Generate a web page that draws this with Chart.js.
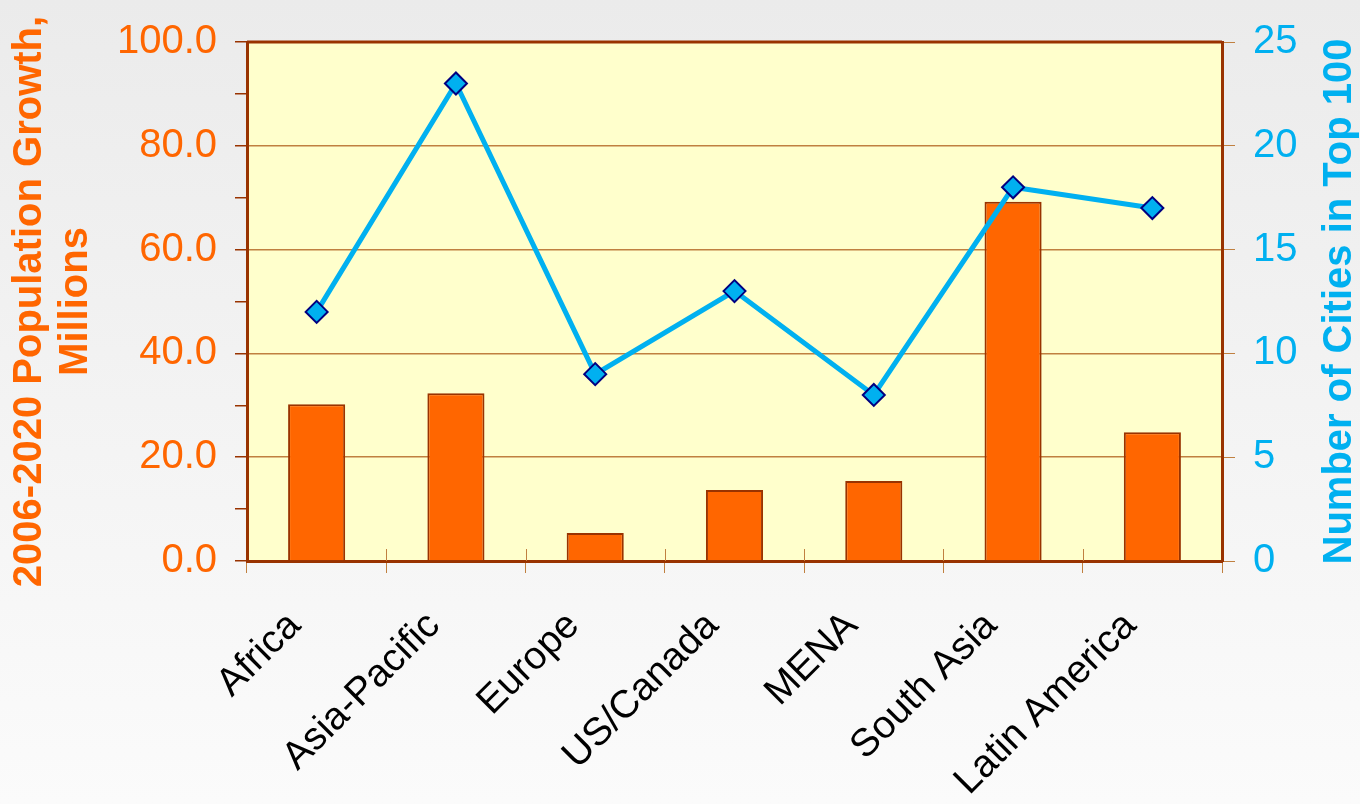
<!DOCTYPE html>
<html>
<head>
<meta charset="utf-8">
<script src="https://cdn.jsdelivr.net/npm/chart.js@4"></script>
<style>
  body { margin: 0; background: linear-gradient(#ebebeb, #fbfbfb); }
  canvas { display: block; }
</style>
</head>
<body>
<canvas id="myChart" width="1360" height="804"></canvas>
<script>
var categories = ['Africa', 'Asia-Pacific', 'Europe', 'US/Canada', 'MENA', 'South Asia', 'Latin America'];
var popGrowth = [30.2, 32.3, 5.4, 13.7, 15.4, 69.2, 24.8];
var citiesTop100 = [12, 23, 9, 13, 8, 18, 17];

var leftTitle = ['2006-2020 Population Growth,', 'Millions'];
var rightTitle = 'Number of Cities in Top 100';

var FONT = 'Liberation Sans, Arial, sans-serif';

// yellow plot area, top border, small inner ticks, right title (reads bottom-up)
var plotArea = {
    id: 'plotArea',
    beforeDraw: function (chart) {
        var a = chart.chartArea;
        var c = chart.ctx;
        c.save();
        c.fillStyle = '#FFFFCC';
        c.fillRect(a.left, a.top, a.right - a.left, a.bottom - a.top);
        c.restore();
    },
    beforeDatasetsDraw: function (chart) {
        var a = chart.chartArea;
        var c = chart.ctx;
        var n = categories.length;
        c.save();
        c.strokeStyle = '#993300';
        c.lineWidth = 3;
        c.beginPath();
        c.moveTo(a.left, a.top);
        c.lineTo(a.right, a.top);
        c.stroke();
        c.strokeStyle = '#C08040';
        c.lineWidth = 1;
        for (var i = 1; i < n; i++) {
            var x = Math.round(a.left + i * (a.right - a.left) / n) + 0.5;
            c.beginPath();
            c.moveTo(x, a.bottom);
            c.lineTo(x, a.bottom - 12);
            c.stroke();
        }
        c.restore();
    },
    afterDraw: function (chart) {
        var a = chart.chartArea;
        var c = chart.ctx;
        c.save();
        c.translate(1351, (a.top + a.bottom) / 2);
        c.rotate(-Math.PI / 2);
        c.font = 'bold 40px ' + FONT;
        c.fillStyle = '#00B0F0';
        c.textAlign = 'center';
        c.textBaseline = 'alphabetic';
        c.fillText(rightTitle, 0, 0);
        c.restore();
    }
};

var ctx = document.getElementById('myChart');
var myChart = new Chart(ctx, {
    data: {
        labels: categories,
        datasets: [{
            type: 'line',
            data: citiesTop100,
            yAxisID: 'y1',
            order: 0,
            borderColor: '#00B0F0',
            borderWidth: 5,
            pointStyle: 'rectRot',
            pointRadius: 11,
            pointBackgroundColor: '#00B0F0',
            pointBorderColor: '#000080',
            pointBorderWidth: 2,
            tension: 0
        }, {
            type: 'bar',
            data: popGrowth,
            yAxisID: 'y',
            order: 1,
            backgroundColor: '#FF6600',
            borderColor: '#993300',
            borderWidth: 2,
            categoryPercentage: 1,
            barPercentage: 0.41
        }]
    },
    options: {
        responsive: false,
        devicePixelRatio: 1,
        animation: false,
        layout: { padding: { top: 41, left: 0, right: 0, bottom: 0 } },
        plugins: {
            legend: { display: false },
            tooltip: { enabled: false }
        },
        scales: {
            x: {
                grid: {
                    offset: true,
                    drawOnChartArea: false,
                    tickLength: 12,
                    tickColor: '#C08040'
                },
                border: { color: '#993300', width: 3 },
                ticks: {
                    color: '#000',
                    font: { family: FONT, size: 39 },
                    maxRotation: 45,
                    minRotation: 45,
                    padding: 30,
                    labelOffset: -22
                },
                afterFit: function (scale) { scale.height = 243; }
            },
            y: {
                position: 'left',
                min: 0,
                max: 100,
                grid: {
                    color: function (c) {
                        var v = c.tick.value;
                        return (v % 20 === 0 && v > 0 && v < 100) ? '#C08040' : 'rgba(0,0,0,0)';
                    },
                    lineWidth: 1.5,
                    tickColor: '#993300',
                    tickLength: 12
                },
                border: { color: '#993300', width: 3 },
                ticks: {
                    stepSize: 10,
                    autoSkip: false,
                    color: '#FF6600',
                    font: { family: FONT, size: 40 },
                    padding: 18,
                    callback: function (v) { return v % 20 === 0 ? v.toFixed(1) : ''; }
                },
                title: {
                    display: true,
                    text: leftTitle,
                    color: '#FF6600',
                    font: { family: FONT, size: 40, weight: 'bold', lineHeight: 1.15 },
                    padding: { top: 7, bottom: 0 }
                },
                afterFit: function (scale) { scale.width = 247; }
            },
            y1: {
                position: 'right',
                min: 0,
                max: 25,
                grid: {
                    drawOnChartArea: false,
                    tickColor: '#C08040',
                    tickLength: 13
                },
                border: { color: '#993300', width: 3 },
                ticks: {
                    stepSize: 5,
                    color: '#00B0F0',
                    font: { family: FONT, size: 40 },
                    padding: 18
                },
                afterFit: function (scale) { scale.width = 138; }
            }
        }
    },
    plugins: [plotArea]
});
</script>
</body>
</html>
